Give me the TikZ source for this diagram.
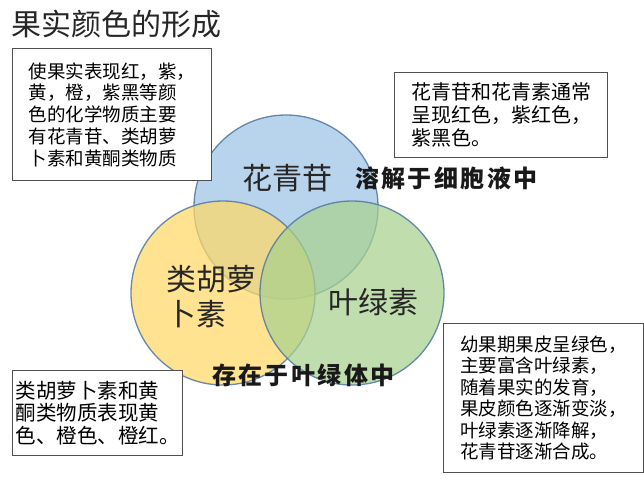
\documentclass[tikz,border=0pt]{standalone}
\usepackage{fontspec}
\setmainfont{Noto Sans CJK SC}
\definecolor{cblue}{HTML}{9DC3E6}
\definecolor{cyellow}{HTML}{FFD966}
\definecolor{cgreen}{HTML}{A9D18E}
\definecolor{cedge}{HTML}{4F77A3}
\definecolor{boxedge}{HTML}{505050}
\begin{document}
\begin{tikzpicture}[x=1pt,y=-1pt,
  venn/.style={circle,minimum size=184pt,inner sep=0,fill opacity=0.72,draw=cedge,draw opacity=0.85,line width=1.3pt},
  infobox/.style={draw=boxedge,line width=1.2pt,anchor=north west,align=left,inner sep=0,fill=white},
  biglabel/.style={font=\fontsize{30}{35}\selectfont,inner sep=0,text=black!85},
  notelabel/.style={font=\fontsize{24}{28}\selectfont\bfseries\addfontfeature{LetterSpace=10},inner sep=0,text=black!90}]
\useasboundingbox (0,0) rectangle (644,483);
\fill[white] (0,0) rectangle (644,483);
% title
\node[anchor=west,inner sep=0,font=\fontsize{30}{34}\selectfont,text=black!85] (title) at (11,24) {果实颜色的形成};
% circles
\node[venn,fill=cblue] (blue) at (286,207) {};
\node[venn,fill=cyellow] (yellow) at (223,293) {};
\node[venn,fill=cgreen] (green) at (352,293) {};
% labels
\node[biglabel] (lb) at (287,178) {花青苷};
\node[biglabel,anchor=north west,align=left,font=\fontsize{30}{35}\selectfont] (ly) at (166,265) {类胡萝\\卜素};
\node[biglabel] (lg) at (373,302) {叶绿素};
\node[notelabel,anchor=west] (n1) at (355,178) {溶解于细胞液中};
\node[notelabel,anchor=west] (n2) at (212,375) {存在于叶绿体中};
% boxes
\node[infobox,minimum width=199pt,minimum height=132pt,font=\fontsize{18.5}{21.7}\selectfont] (b1) at (12,48)
  {使果实表现红，紫，\\黄，橙，紫黑等颜\\色的化学物质主要\\有花青苷、类胡萝\\卜素和黄酮类物质};
\node[infobox,minimum width=213pt,minimum height=85pt,font=\fontsize{20}{23.3}\selectfont] (b2) at (394,72)
  {花青苷和花青素通常\\呈现红色，紫红色，\\紫黑色。};
\node[infobox,minimum width=170pt,minimum height=85pt,font=\fontsize{20.5}{22.5}\selectfont] (b3) at (12,370)
  {类胡萝卜素和黄\\酮类物质表现黄\\色、橙色、橙红。};
\node[infobox,minimum width=200pt,minimum height=149pt,font=\fontsize{18.5}{21.5}\selectfont] (b4) at (443,323)
  {幼果期果皮呈绿色，\\主要富含叶绿素，\\随着果实的发育，\\果皮颜色逐渐变淡，\\叶绿素逐渐降解，\\花青苷逐渐合成。};
\end{tikzpicture}
\end{document}
